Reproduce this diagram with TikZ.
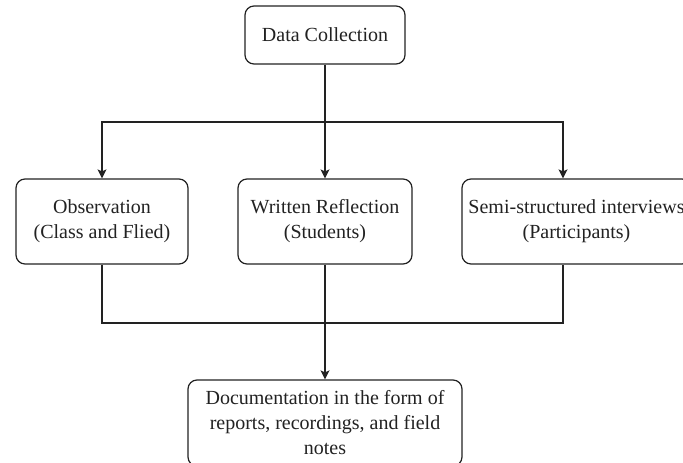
\documentclass[tikz,border=0pt]{standalone}
\usepackage{fontspec}
\setmainfont{Liberation Serif}
\usetikzlibrary{arrows.meta}
\definecolor{ln}{HTML}{222222}
\begin{document}
\begin{tikzpicture}[x=1pt,y=-1pt,
  box/.style={draw=ln,line width=1.2pt,rounded corners=9pt,fill=white,align=center,
    inner sep=2pt,font=\fontsize{20}{25}\selectfont,text=ln},
  conn/.style={draw=ln,line width=1.2pt},
  arr/.style={conn,-{Stealth[length=9pt,width=9pt,inset=2pt]}}]
\useasboundingbox (0,0) rectangle (683,463);
\clip (0,0) rectangle (683,463);
\fill[white] (0,0) rectangle (683,463);
\node[box,minimum width=160pt,minimum height=58pt] (dc) at (325,35) {Data Collection};
\node[box,minimum width=172pt,minimum height=85pt] (obs) at (102,221.5) {Observation\\(Class and Flied)};
\node[box,minimum width=174pt,minimum height=85pt] (wr) at (325,221.5) {Written Reflection\\(Students)};
\node[box,minimum width=229pt,minimum height=85pt] (ssi) at (576.5,221.5) {Semi-structured interviews\\(Participants)};
\node[box,minimum width=274pt,minimum height=86pt] (doc) at (325,423) {Documentation in the form of\\reports, recordings, and field\\notes};
\coordinate (j1) at (325,122);
\coordinate (j2) at (325,323);
\draw[conn] (dc.south) -- (j1);
\draw[arr] (j1) -| (obs.north);
\draw[arr] (j1) -- (wr.north);
\draw[arr] (j1) -| ([xshift=-13.5pt]ssi.north);
\draw[conn] (obs.south) |- (j2) -| ([xshift=-13.5pt]ssi.south);
\draw[arr] (wr.south) -- (doc.north);
\end{tikzpicture}
\end{document}
